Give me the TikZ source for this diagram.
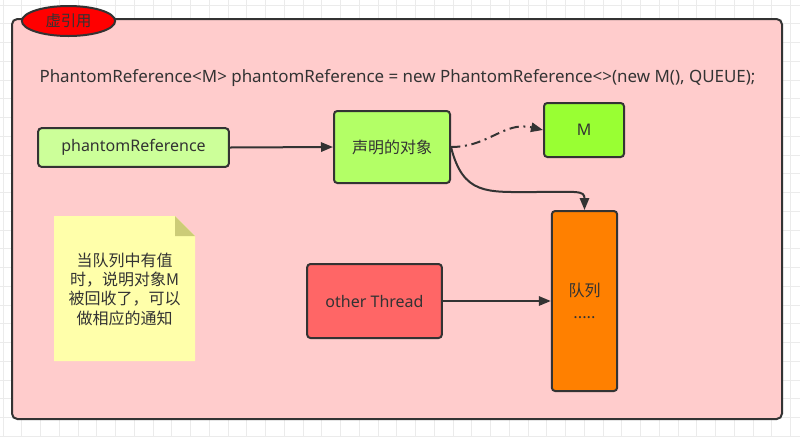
\documentclass[tikz,border=0pt]{standalone}
\usepackage{fontspec}
\setmainfont{Noto Sans}
\newfontfamily\cjk{Noto Sans CJK SC}
\usetikzlibrary{shapes.geometric,arrows.meta}
\definecolor{linegray}{RGB}{51,51,51}
\definecolor{gridgray}{RGB}{235,235,235}
\definecolor{framepink}{RGB}{255,204,204}
\definecolor{refgreen}{RGB}{204,255,153}
\definecolor{objgreen}{RGB}{179,255,102}
\definecolor{mgreen}{RGB}{153,255,51}
\definecolor{queueorange}{RGB}{255,128,0}
\definecolor{threadred}{RGB}{255,102,102}
\definecolor{noteyellow}{RGB}{255,255,170}
\definecolor{notefold}{RGB}{204,204,119}
\begin{document}
\begin{tikzpicture}[x=0.75pt,y=-0.75pt,
  box/.style={draw=linegray,line width=1.5pt,rounded corners=2.5pt,text=linegray,
    inner sep=0pt,font=\fontsize{12}{15}\selectfont,align=center},
  link/.style={draw=linegray,line width=1.5pt,-{Triangle[length=9pt,width=7pt]}}]
\useasboundingbox (0,0) rectangle (800,437);
\fill[white] (0,0) rectangle (800,437);
\foreach \i in {0,...,42} \draw[gridgray,line width=0.75pt] (3+18.75*\i,0) -- (3+18.75*\i,437);
\foreach \j in {0,...,23} \draw[gridgray,line width=0.75pt] (0,5+18.75*\j) -- (800,5+18.75*\j);

\draw[draw=linegray,fill=framepink,line width=1.5pt,rounded corners=4pt] (12,19) rectangle (782,419);
\node[ellipse,draw=linegray,fill=red,line width=1.5pt,minimum width=70pt,minimum height=22.5pt,
  inner sep=0pt,text=linegray,font=\cjk\fontsize{11.5}{14}\selectfont] (title) at (68.5,21) {虚引用};

\node[text=linegray,font=\fontsize{12.7}{15}\selectfont] (code) at (397.5,78)
  {PhantomReference<M> phantomReference = new PhantomReference<>(new M(), QUEUE);};

\node[box,fill=refgreen,minimum width=143pt,minimum height=29pt] (pref) at (133.5,147.5) {phantomReference};
\node[box,fill=objgreen,minimum width=87pt,minimum height=54pt,font=\cjk\fontsize{12}{15}\selectfont] (obj) at (392,147) {声明的对象};
\node[box,fill=mgreen,minimum width=60pt,minimum height=40.5pt] (M) at (584,130) {M};
\node[box,fill=queueorange,minimum width=49pt,minimum height=135pt,font=\cjk\fontsize{12}{16}\selectfont] (queue) at (584.5,301) {队列\\.....};
\node[box,fill=threadred,minimum width=101pt,minimum height=55.5pt] (thread) at (374.5,301) {other Thread};

\fill[noteyellow] (54,216) -- (175,216) -- (195,236) -- (195,361) -- (54,361) -- cycle;
\fill[notefold] (175,216) -- (195,236) -- (175,236) -- cycle;
\node[text=linegray,align=center,font=\cjk\fontsize{12}{14.5}\selectfont] (note) at (124.5,289)
  {当队列中有值\\时，说明对象M\\被回收了，可以\\做相应的通知};

\draw[link] (pref.east) -- (obj.west);
\draw[link,dash pattern=on 7pt off 3.5pt on 1.5pt off 3.5pt] (obj.east) .. controls +(38,0) and +(-39,-9) .. (M.west);
\coordinate (bend) at (532,192);
\draw[link] (obj.east) .. controls +(12,48) and +(-45,0) .. (bend) .. controls +(45,0) and +(0,-20) .. (queue.north);
\draw[link] (thread.east) -- (queue.west);
\end{tikzpicture}
\end{document}
